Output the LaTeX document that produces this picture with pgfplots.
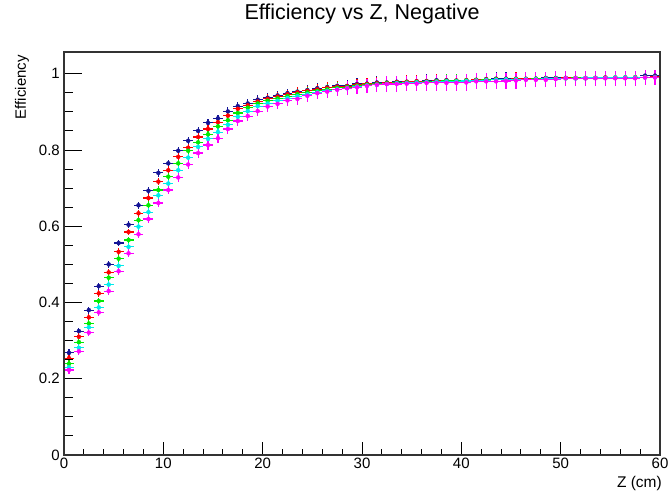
\documentclass[border=0pt]{standalone}
\usepackage{fontspec}
\setmainfont{Liberation Sans}
\usepackage{pgfplots}
\usepackage{pgfplotstable}
\pgfplotsset{compat=1.18}
\definecolor{rblue}{RGB}{20,20,150}
\definecolor{rred}{RGB}{255,0,0}
\definecolor{rgreen}{RGB}{0,235,0}
\definecolor{rcyan}{RGB}{0,235,235}
\definecolor{rmag}{RGB}{255,0,255}
\pgfplotstableread{
z b r g c m e em
0.5 .268 .254 .239 .230 .223 .009 .010
1.5 .325 .310 .296 .281 .272 .009 .010
2.5 .380 .361 .345 .335 .321 .009 .010
3.5 .443 .424 .404 .387 .374 .009 .010
4.5 .500 .479 .465 .447 .430 .009 .010
5.5 .556 .533 .515 .496 .482 .009 .010
6.5 .604 .585 .564 .546 .529 .009 .010
7.5 .655 .634 .616 .599 .579 .009 .010
8.5 .693 .674 .655 .637 .619 .010 .011
9.5 .740 .717 .695 .681 .661 .010 .011
10.5 .765 .747 .730 .712 .695 .010 .011
11.5 .798 .782 .765 .747 .728 .010 .011
12.5 .824 .806 .798 .780 .762 .010 .011
13.5 .850 .834 .820 .808 .792 .010 .012
14.5 .871 .855 .841 .829 .813 .010 .012
15.5 .883 .873 .862 .847 .831 .010 .012
16.5 .901 .890 .878 .866 .855 .011 .012
17.5 .915 .908 .897 .887 .876 .011 .013
18.5 .922 .917 .911 .902 .889 .011 .013
19.5 .932 .927 .922 .915 .902 .011 .013
20.5 .937 .934 .929 .922 .914 .012 .014
21.5 .943 .940 .935 .929 .921 .012 .014
22.5 .949 .946 .941 .936 .930 .012 .015
23.5 .953 .951 .946 .941 .934 .013 .015
24.5 .957 .955 .951 .946 .942 .013 .016
25.5 .962 .959 .955 .951 .949 .013 .016
26.5 .965 .963 .959 .955 .953 .014 .017
27.5 .968 .966 .963 .959 .958 .014 .017
28.5 .968 .967 .965 .962 .962 .015 .018
29.5 .973 .971 .968 .966 .965 .015 .018
30.5 .974 .973 .971 .969 .968 .016 .019
31.5 .977 .975 .973 .971 .971 .016 .019
32.5 .977 .976 .975 .973 .973 .016 .020
33.5 .979 .978 .976 .975 .973 .016 .020
34.5 .979 .979 .977 .976 .974 .017 .020
35.5 .980 .980 .978 .977 .974 .017 .020
36.5 .981 .980 .979 .978 .976 .017 .020
37.5 .983 .981 .980 .979 .976 .017 .020
38.5 .983 .982 .981 .980 .976 .017 .020
39.5 .982 .982 .981 .980 .976 .017 .021
40.5 .983 .983 .982 .981 .977 .017 .021
41.5 .984 .984 .983 .982 .980 .017 .021
42.5 .986 .985 .984 .983 .980 .017 .021
43.5 .987 .986 .985 .984 .980 .017 .021
44.5 .987 .986 .985 .985 .981 .017 .021
45.5 .986 .987 .986 .985 .982 .017 .021
46.5 .986 .987 .986 .986 .984 .016 .020
47.5 .987 .987 .987 .986 .984 .016 .020
48.5 .989 .988 .987 .987 .984 .016 .020
49.5 .989 .988 .988 .987 .986 .016 .020
50.5 .989 .989 .988 .988 .988 .016 .019
51.5 .988 .989 .989 .988 .988 .016 .019
52.5 .988 .989 .989 .989 .988 .016 .019
53.5 .989 .989 .989 .989 .988 .016 .019
54.5 .990 .990 .989 .989 .988 .016 .019
55.5 .989 .990 .990 .990 .988 .016 .019
56.5 .990 .990 .990 .990 .988 .016 .019
57.5 .990 .991 .990 .990 .988 .016 .019
58.5 .995 .991 .991 .990 .990 .016 .019
59.5 .995 .992 .991 .991 .990 .016 .019
}\data
\pgfplotsset{
  rootbase/.style={
    at={(0,0)}, anchor=south west, scale only axis,
    width=596pt, height=403pt,
    xmin=0, xmax=60, ymin=0, ymax=1.057,
    axis line style={draw=black!80, line width=1.1pt},
    tick align=inside,
    tick style={black, line width=0.9pt},
    /pgf/number format/assume math mode=true,
    ticklabel style={font=\fontsize{15}{18}\selectfont},
  },
  herr/.style={only marks, mark=none, color=#1,
    error bars/.cd, x dir=both, x fixed=0.5, y dir=both, y explicit,
    error mark=none, error bar style={line width=1.1pt, color=#1}},
}
\begin{document}
\begin{tikzpicture}
\useasboundingbox (-64pt,-43pt) rectangle (608pt,455pt);
% axis with x ticks and data
\begin{axis}[rootbase,
  xtick={0,10,...,60}, minor x tick num=4, xtick pos=bottom,
  ytick=\empty,
  major tick length=13pt, minor tick length=6.5pt,
  xticklabel style={inner sep=3pt},
  title={Efficiency vs Z, Negative},
  title style={at={(0.5,1)}, anchor=center, yshift=32pt, font=\fontsize{21.5}{25}\selectfont},
  xlabel={Z (cm)},
  xlabel style={at={(1,0)}, anchor=east, yshift=-28pt, xshift=2pt, inner sep=0pt, font=\fontsize{15.5}{18}\selectfont},
]
\addplot[herr=rblue] table[x=z, y=b, y error=e] {\data};
\addplot[herr=rred] table[x=z, y=r, y error=e] {\data};
\addplot[herr=rgreen] table[x=z, y=g, y error=e] {\data};
\addplot[herr=rcyan] table[x=z, y=c, y error=e] {\data};
\addplot[herr=rmag] table[x=z, y=m, y error=em] {\data};
\coordinate (tl) at (rel axis cs:0,1);
\end{axis}
% axis with y ticks only
\begin{axis}[rootbase,
  xtick=\empty,
  ytick={0,0.2,...,1.0}, minor y tick num=3, ytick pos=left,
  major tick length=18pt, minor tick length=9pt,
  yticklabel style={inner sep=4pt},
]
\end{axis}
\node[rotate=90, anchor=east, font=\fontsize{15}{18}\selectfont, inner sep=0pt] at ([xshift=-42pt, yshift=-3pt]tl) {Efficiency};
\end{tikzpicture}
\end{document}
